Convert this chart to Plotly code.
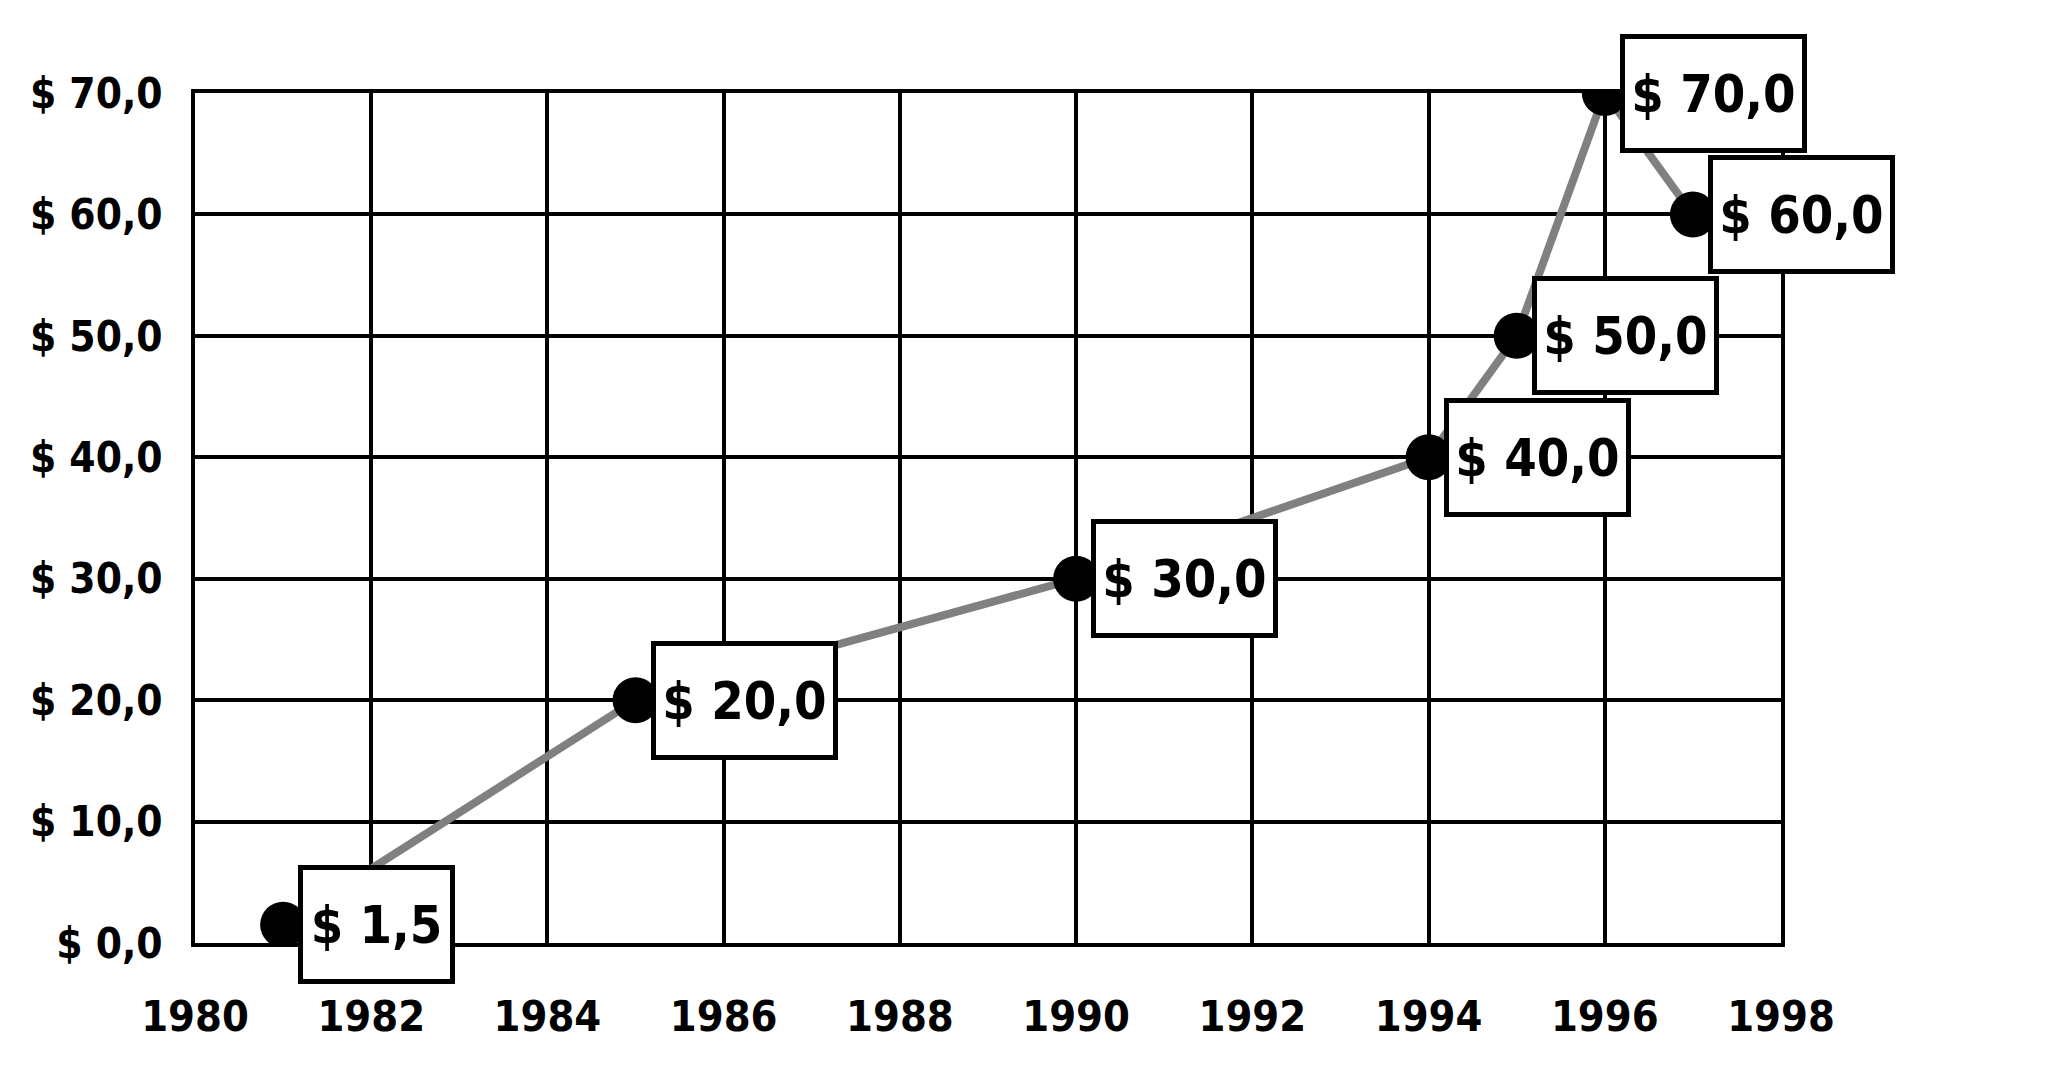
import plotly.graph_objects as go

years = [1981, 1985, 1990, 1994, 1995, 1996, 1997]
values = [1.5, 20.0, 30.0, 40.0, 50.0, 70.0, 60.0]
labels = ["$ 1,5", "$ 20,0", "$ 30,0", "$ 40,0", "$ 50,0", "$ 70,0", "$ 60,0"]
x_ticks = [1980, 1982, 1984, 1986, 1988, 1990, 1992, 1994, 1996, 1998]
y_ticks = [0, 10, 20, 30, 40, 50, 60, 70]
y_tick_text = ["$ 0,0", "$ 10,0", "$ 20,0", "$ 30,0", "$ 40,0", "$ 50,0", "$ 60,0", "$ 70,0"]

FONT = "DejaVu Sans Condensed, DejaVu Sans"

fig = go.Figure()
fig.add_trace(go.Scatter(
    x=years, y=values, mode="lines+markers",
    line=dict(color="#808080", width=8),
    marker=dict(color="black", size=46),
    hoverinfo="skip", showlegend=False,
))

for xv, yv, t in zip(years, values, labels):
    fig.add_annotation(
        x=xv, y=yv, text=t, showarrow=False,
        xanchor="left", yanchor="middle", xshift=15,
        width=169 if len(t) >= 6 else 139, height=101, align="center",
        font=dict(family=FONT, size=52, color="black", weight="bold"),
        bgcolor="white", bordercolor="black", borderwidth=5, borderpad=4,
    )

fig.update_xaxes(
    range=[1980, 1998], tickvals=x_ticks, ticktext=[str(v) for v in x_ticks],
    showgrid=True, gridcolor="black", gridwidth=4,
    showline=True, linecolor="black", linewidth=4, mirror=True,
    zeroline=False, ticks="", ticklabelstandoff=32,
    tickfont=dict(family=FONT, size=43, color="black", weight="bold"),
)
fig.update_yaxes(
    range=[0, 70], tickvals=y_ticks, ticktext=y_tick_text,
    showgrid=True, gridcolor="black", gridwidth=4,
    showline=True, linecolor="black", linewidth=4, mirror=True,
    zeroline=False, ticks="", ticklabelstandoff=20,
    tickfont=dict(family=FONT, size=42, color="black", weight="bold"),
)
fig.update_layout(
    width=2048, height=1080,
    margin=dict(l=187, r=275, t=85, b=145),
    plot_bgcolor="white", paper_bgcolor="white",
)
fig.write_html("out.html")
